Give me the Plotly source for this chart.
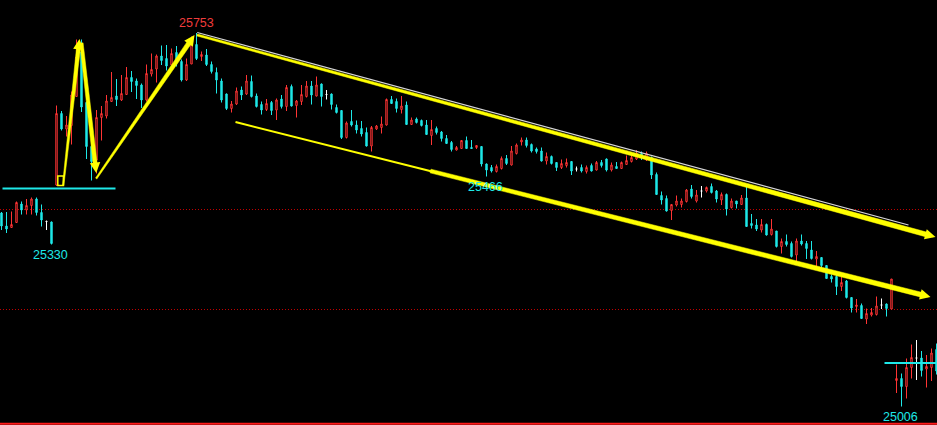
import math
import numpy as np
import plotly.graph_objects as go

# ---------------- data (price OHLC per bar) ----------------
open_ = [25393, 25367, 25364, 25374, 25411, 25399, 25408, 25421, 25394, 25376,
         25375, 25449, 25592, 25561, 25568, 25626, 25715, 25614, 25526, 25499,
         25584, 25587, 25616, 25627, 25619, 25630, 25664, 25657, 25649, 25619,
         25671, 25681, 25707, 25702, 25689, 25714, 25696, 25659, 25691, 25730,
         25706, 25709, 25690, 25674, 25657, 25631, 25602, 25611, 25639, 25631,
         25656, 25627, 25610, 25600, 25614, 25599, 25621, 25606, 25646, 25608,
         25616, 25626, 25647, 25627, 25651, 25630, 25631, 25604, 25598, 25544,
         25576, 25569, 25562, 25554, 25527, 25561, 25564, 25569, 25620, 25616,
         25600, 25609, 25570, 25581, 25578, 25569, 25548, 25562, 25555, 25542,
         25534, 25519, 25522, 25538, 25524, 25524, 25526, 25491, 25484, 25476,
         25482, 25502, 25489, 25512, 25535, 25539, 25530, 25521, 25517, 25497,
         25506, 25494, 25484, 25488, 25496, 25481, 25484, 25476, 25488, 25479,
         25494, 25501, 25479, 25486, 25482, 25490, 25496, 25501, 25512, 25499,
         25504, 25470, 25428, 25422, 25398, 25409, 25410, 25416, 25441, 25417,
         25437, 25437, 25446, 25437, 25419, 25430, 25404, 25417, 25410, 25423,
         25372, 25369, 25359, 25370, 25350, 25357, 25326, 25336, 25332, 25309,
         25337, 25332, 25319, 25301, 25304, 25288, 25266, 25266, 25246, 25257,
         25224, 25206, 25208, 25181, 25189, 25190, 25209, 25211, 25201, 25058,
         25062, 25046, 25084, 25103, 25103, 25081, 25084, 25120]
high = [25395, 25395, 25396, 25416, 25416, 25421, 25424, 25424, 25410, 25378,
        25376, 25608, 25597, 25587, 25636, 25740, 25740, 25616, 25529, 25599,
        25607, 25629, 25675, 25661, 25669, 25685, 25677, 25662, 25652, 25690,
        25712, 25710, 25728, 25729, 25722, 25727, 25700, 25702, 25746, 25753,
        25716, 25721, 25696, 25684, 25662, 25632, 25617, 25644, 25646, 25669,
        25668, 25632, 25616, 25621, 25617, 25622, 25629, 25649, 25650, 25619,
        25649, 25657, 25657, 25666, 25652, 25639, 25632, 25610, 25599, 25576,
        25599, 25578, 25577, 25564, 25567, 25569, 25586, 25622, 25627, 25622,
        25627, 25616, 25584, 25584, 25580, 25579, 25579, 25566, 25557, 25549,
        25537, 25527, 25539, 25546, 25539, 25529, 25527, 25492, 25489, 25490,
        25506, 25509, 25527, 25532, 25544, 25544, 25532, 25524, 25524, 25514,
        25508, 25494, 25500, 25502, 25496, 25486, 25490, 25488, 25492, 25497,
        25499, 25502, 25494, 25495, 25496, 25508, 25509, 25519, 25516, 25516,
        25506, 25474, 25436, 25428, 25410, 25428, 25422, 25441, 25449, 25439,
        25447, 25446, 25452, 25439, 25434, 25432, 25422, 25417, 25429, 25446,
        25391, 25381, 25381, 25372, 25381, 25357, 25342, 25350, 25336, 25342,
        25350, 25337, 25337, 25317, 25304, 25289, 25270, 25269, 25265, 25259,
        25225, 25221, 25212, 25202, 25203, 25226, 25222, 25212, 25261, 25090,
        25072, 25102, 25130, 25139, 25117, 25109, 25122, 25132]
low = [25359, 25353, 25364, 25373, 25390, 25390, 25390, 25388, 25366, 25359,
       25330, 25447, 25558, 25546, 25530, 25626, 25595, 25501, 25458, 25472,
       25538, 25582, 25616, 25607, 25617, 25629, 25635, 25621, 25603, 25616,
       25666, 25654, 25689, 25678, 25686, 25686, 25656, 25657, 25691, 25699,
       25697, 25687, 25672, 25632, 25614, 25599, 25594, 25609, 25619, 25629,
       25624, 25604, 25590, 25597, 25589, 25579, 25602, 25597, 25606, 25584,
       25609, 25624, 25610, 25626, 25606, 25620, 25600, 25592, 25541, 25542,
       25566, 25552, 25546, 25526, 25516, 25559, 25552, 25568, 25611, 25594,
       25592, 25569, 25569, 25572, 25566, 25549, 25529, 25550, 25536, 25531,
       25516, 25518, 25521, 25521, 25521, 25521, 25486, 25466, 25474, 25474,
       25480, 25489, 25488, 25510, 25528, 25524, 25514, 25512, 25496, 25490,
       25490, 25477, 25481, 25484, 25469, 25476, 25474, 25472, 25476, 25478,
       25484, 25476, 25476, 25481, 25481, 25489, 25494, 25499, 25499, 25497,
       25461, 25429, 25410, 25396, 25379, 25406, 25404, 25414, 25422, 25414,
       25424, 25434, 25432, 25414, 25409, 25388, 25402, 25402, 25409, 25365,
       25362, 25357, 25354, 25348, 25348, 25324, 25312, 25326, 25304, 25292,
       25328, 25301, 25300, 25284, 25282, 25261, 25254, 25229, 25237, 25222,
       25194, 25194, 25181, 25171, 25186, 25188, 25201, 25186, 25201, 25033,
       25006, 25022, 25062, 25059, 25066, 25044, 25057, 25070]
close = [25367, 25361, 25370, 25414, 25399, 25408, 25421, 25394, 25379, 25376,
         25332, 25592, 25561, 25569, 25629, 25705, 25605, 25526, 25496, 25584,
         25592, 25617, 25624, 25620, 25632, 25664, 25656, 25648, 25619, 25672,
         25680, 25707, 25698, 25687, 25712, 25697, 25659, 25690, 25739, 25702,
         25710, 25690, 25676, 25659, 25619, 25602, 25611, 25637, 25629, 25657,
         25626, 25606, 25599, 25612, 25598, 25619, 25606, 25644, 25607, 25617,
         25630, 25647, 25629, 25649, 25626, 25630, 25610, 25594, 25544, 25573,
         25569, 25559, 25551, 25527, 25564, 25567, 25571, 25620, 25612, 25602,
         25607, 25570, 25579, 25574, 25568, 25550, 25560, 25554, 25542, 25532,
         25520, 25524, 25538, 25522, 25522, 25528, 25491, 25479, 25477, 25486,
         25502, 25492, 25517, 25529, 25539, 25528, 25517, 25516, 25497, 25506,
         25492, 25484, 25492, 25494, 25477, 25481, 25477, 25484, 25477, 25494,
         25488, 25479, 25489, 25482, 25494, 25498, 25504, 25512, 25506, 25512,
         25469, 25430, 25419, 25397, 25410, 25417, 25417, 25439, 25426, 25429,
         25437, 25444, 25434, 25421, 25430, 25401, 25417, 25411, 25423, 25366,
         25368, 25361, 25370, 25349, 25361, 25326, 25336, 25330, 25306, 25337,
         25331, 25322, 25302, 25306, 25288, 25262, 25261, 25246, 25254, 25224,
         25203, 25209, 25182, 25192, 25194, 25207, 25209, 25202, 25261, 25062,
         25046, 25084, 25104, 25103, 25078, 25086, 25113, 25077]

# labelled extremes: bar indices of the marked high / lows
label_high_bars = [39]
label_low_bars = [10, 97, 180]

# grid levels (dotted red)
grid_levels = [25400, 25200]

# support lines (cyan): (start bar, end bar, price)
support_lines = [(0.2, 22.8, 25442), (176.6, 187.2, 25093)]

# ---------------- drawing ----------------
O = np.array(open_, float); Hh = np.array(high, float)
L = np.array(low, float); C = np.array(close, float)
idx = np.arange(len(O))

X0, X1 = -0.3, 187.1
Y0, Y1 = 24969, 25819
W, HT = 937, 425

RED = "#ff3434"
CYAN = "#1ee8e8"
YEL = "#ffff00"

def to_px(i, p):
    return ((i - X0) / (X1 - X0) * W, (Y1 - p) / (Y1 - Y0) * HT)

def to_data(x, y):
    return (X0 + x / W * (X1 - X0), Y1 - y / HT * (Y1 - Y0))

fig = go.Figure()

def add_candles(mask, color, fill):
    fig.add_trace(go.Candlestick(
        x=idx[mask], open=O[mask], high=Hh[mask], low=L[mask], close=C[mask],
        increasing=dict(line=dict(color=color, width=1), fillcolor=fill),
        decreasing=dict(line=dict(color=color, width=1), fillcolor=fill),
        whiskerwidth=0, hoverinfo="skip", showlegend=False))

add_candles(C > O, RED, "#000000")
add_candles(C < O, CYAN, CYAN)
add_candles(C == O, "#ffffff", "#ffffff")

shapes = []
for g in grid_levels:
    shapes.append(dict(type="line", xref="paper", x0=0, x1=1, yref="y", y0=g, y1=g,
                       line=dict(color="#c00000", width=1, dash="1px,2px"), layer="below"))
shapes.append(dict(type="line", xref="paper", x0=0, x1=1, yref="paper", y0=0.003, y1=0.003,
                   line=dict(color="#ff1a1a", width=2)))
for a, b, p in support_lines:
    shapes.append(dict(type="line", x0=a, x1=b, y0=p, y1=p,
                       line=dict(color=CYAN, width=2)))
# small yellow box marker
shapes.append(dict(type="rect", x0=11.26, x1=12.4, y0=25448, y1=25467,
                   line=dict(color=YEL, width=1.5)))

# white trend line (upper channel)
fig.add_trace(go.Scatter(x=[39.14, 181.4], y=[25754, 25369], mode="lines",
                         line=dict(color="#d8d8d8", width=1.2),
                         hoverinfo="skip", showlegend=False))
# thin lower yellow line
fig.add_trace(go.Scatter(x=[46.8, 86.5], y=[25575, 25475], mode="lines",
                         line=dict(color=YEL, width=2),
                         hoverinfo="skip", showlegend=False))

annotations = []

def tapered_arrow(p0, p1, hw0, hw1, head=9):
    x0, y0 = to_px(*p0); x1, y1 = to_px(*p1)
    dx, dy = x1 - x0, y1 - y0
    ln = math.hypot(dx, dy)
    ux, uy = dx / ln, dy / ln
    nx, ny = -uy, ux
    xe, ye = x1 - ux * head, y1 - uy * head
    pts = [(x0 + nx * hw0, y0 + ny * hw0), (xe + nx * hw1, ye + ny * hw1),
           (xe - nx * hw1, ye - ny * hw1), (x0 - nx * hw0, y0 - ny * hw0),
           (x0 + nx * hw0, y0 + ny * hw0)]
    dpts = [to_data(*q) for q in pts]
    fig.add_trace(go.Scatter(x=[q[0] for q in dpts], y=[q[1] for q in dpts],
                             mode="lines", fill="toself", fillcolor=YEL,
                             line=dict(color=YEL, width=0.5),
                             hoverinfo="skip", showlegend=False))
    tx, ty = to_data(x1 - ux * 14, y1 - uy * 14)
    annotations.append(dict(x=p1[0], y=p1[1], ax=tx, ay=ty, axref="x", ayref="y",
                            xref="x", yref="y", text="", showarrow=True,
                            arrowhead=2, arrowsize=1.05, arrowwidth=2,
                            arrowcolor=YEL, standoff=0))

tapered_arrow((12.34, 25449), (15.6, 25741), 0.7, 2.0)
tapered_arrow((16.0, 25733), (18.94, 25473), 1.6, 2.0)
tapered_arrow((18.94, 25462), (38.6, 25749), 0.8, 2.3)
tapered_arrow((39.14, 25749), (186.8, 25345), 1.0, 2.4)
tapered_arrow((85.8, 25477), (185.8, 25225), 1.9, 2.4)

FONT = "Liberation Sans, Arial, sans-serif"
for b in label_high_bars:
    annotations.append(dict(x=b, y=Hh[b], text=str(int(Hh[b])), showarrow=False,
                            yanchor="middle", yshift=10, xshift=0,
                            font=dict(family=FONT, size=12.5, color="#f03c3c")))
for b in label_low_bars:
    annotations.append(dict(x=b, y=L[b], text=str(int(L[b])), showarrow=False,
                            yanchor="middle", yshift=-10, xshift=-1,
                            font=dict(family=FONT, size=12.5, color=CYAN)))

fig.update_layout(
    width=W, height=HT, margin=dict(l=0, r=0, t=0, b=0),
    paper_bgcolor="#000000", plot_bgcolor="#000000",
    boxgap=0.6, showlegend=False,
    xaxis=dict(range=[X0, X1], visible=False, rangeslider=dict(visible=False),
               fixedrange=True),
    yaxis=dict(range=[Y0, Y1], visible=False, fixedrange=True),
    shapes=shapes, annotations=annotations,
)

fig.write_html(
    "out.html",
    config={"displayModeBar": False},
    post_script="document.body.style.margin='0';document.body.style.background='#000';",
)
